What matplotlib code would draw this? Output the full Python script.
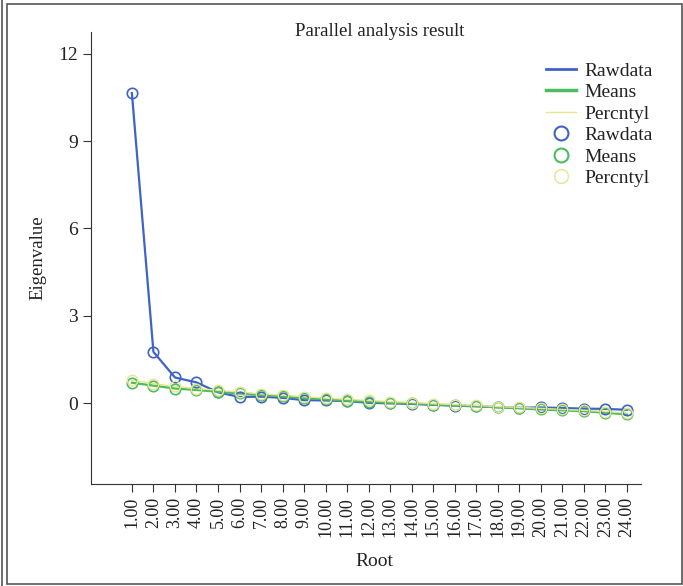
import matplotlib
matplotlib.use("Agg")
import matplotlib.pyplot as plt
from matplotlib.patches import Rectangle
from matplotlib.lines import Line2D

plt.rcParams['font.family'] = ['Liberation Serif', 'DejaVu Serif']

roots = list(range(1, 25))
tick_labels = [f"{r}.00" for r in roots]
rawdata = [10.65, 1.76, 0.88, 0.71, 0.37, 0.21, 0.22, 0.18, 0.10, 0.09, 0.07, 0.01,
           -0.01, -0.03, -0.06, -0.09, -0.11, -0.14, -0.16, -0.15, -0.17, -0.19, -0.20, -0.23]
means = [0.70, 0.60, 0.50, 0.45, 0.39, 0.33, 0.27, 0.23, 0.17, 0.13, 0.08, 0.05,
         0.01, -0.01, -0.05, -0.08, -0.10, -0.15, -0.18, -0.22, -0.25, -0.28, -0.33, -0.39]
percntyl = [0.79, 0.67, 0.57, 0.50, 0.44, 0.38, 0.32, 0.27, 0.22, 0.17, 0.13, 0.09,
            0.05, 0.02, -0.02, -0.05, -0.08, -0.12, -0.15, -0.18, -0.22, -0.25, -0.29, -0.34]

c_raw = '#3f63c6'
c_mean = '#4dbb61'
c_pct = '#e6e68e'
c_txt = '#222222'

fig = plt.figure(figsize=(6.83, 5.86), dpi=100)
ax = fig.add_axes([91/683, 1-484/586, (641-91)/683, (484-32)/586])

ax.plot(roots, rawdata, color=c_raw, lw=1.6, zorder=3)
ax.plot(roots, means, color=c_mean, lw=1.6, zorder=3)
ax.plot(roots, percntyl, color=c_pct, lw=1.0, zorder=3)
ax.plot(roots, rawdata, ls='none', marker='o', ms=7.5, mfc='none', mec=c_raw, mew=1.2, zorder=4)
ax.plot(roots, means, ls='none', marker='o', ms=7.5, mfc='none', mec=c_mean, mew=1.2, zorder=4)
ax.plot(roots, percntyl, ls='none', marker='o', ms=7.5, mfc='none', mec=c_pct, mew=1.0, zorder=4)

ax.set_xlim(-0.9, 24.65)
ax.set_ylim(-2.78, 12.75)
ax.set_xticks(roots)
ax.set_xticklabels(tick_labels, rotation=90, fontsize=13)
ax.set_yticks([0, 3, 6, 9, 12])
ax.set_yticklabels(['0', '3', '6', '9', '12'], fontsize=14)
for s in ['top', 'right']:
    ax.spines[s].set_visible(False)
ax.spines['left'].set_color('#333333')
ax.spines['bottom'].set_color('#333333')
ax.tick_params(direction='out', length=6, color='#333333', labelcolor=c_txt)

fig.text(380/683, 1-32/586, 'Parallel analysis result', fontsize=13.5, color=c_txt,
         ha='center', va='center')
fig.text(38/683, 1-258/586, 'Eigenvalue', fontsize=13.5, color=c_txt,
         ha='center', va='center', rotation=90)
fig.text(374/683, 1-562/586, 'Root', fontsize=14, color=c_txt, ha='center', va='center')

handles = [
    Line2D([], [], color=c_raw, lw=2),
    Line2D([], [], color=c_mean, lw=2.5),
    Line2D([], [], color=c_pct, lw=1),
    Line2D([], [], ls='none', marker='o', ms=10, mfc='none', mec=c_raw, mew=1.5),
    Line2D([], [], ls='none', marker='o', ms=10, mfc='none', mec=c_mean, mew=1.5),
    Line2D([], [], ls='none', marker='o', ms=10, mfc='none', mec=c_pct, mew=1.0),
]
labels = ['Rawdata', 'Means', 'Percntyl', 'Rawdata', 'Means', 'Percntyl']
fig.legend(handles, labels, loc='upper left', bbox_to_anchor=(546/683, 1-62/586),
           frameon=False, fontsize=14, handlelength=1.55, handletextpad=0.4,
           labelspacing=0.2, borderpad=0, borderaxespad=0, labelcolor=c_txt)

fig.add_artist(Rectangle((7/683, 1-584/586), (682-7)/683, (584-4)/586,
                         transform=fig.transFigure, fill=False, ec='#555555', lw=1.2))
fig.add_artist(Line2D([2/683, 2/683], [0, 1], transform=fig.transFigure, color='#555555', lw=1.2))

fig.savefig('out.png', dpi=100)
